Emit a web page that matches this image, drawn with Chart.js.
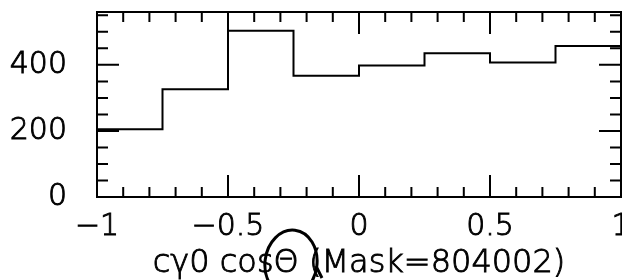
<!DOCTYPE html>
<html>
<head>
<meta charset="utf-8">
<script src="https://cdn.jsdelivr.net/npm/chart.js@4/dist/chart.umd.min.js"></script>
<style>
  html, body { margin: 0; padding: 0; background: #fff; overflow: hidden; }
  #wrap { width: 622px; height: 280px; position: relative; }
</style>
</head>
<body>
<div id="wrap"><canvas id="histo"></canvas></div>
<script>
// ===== DATA =====
const binEdges = [-1, -0.75, -0.5, -0.25, 0, 0.25, 0.5, 0.75];
const counts   = [205, 326, 503, 367, 398, 435, 407, 457];
const xMajor = [-1, -0.5, 0, 0.5, 1];
const xMinorStep = 0.1;
const yMajor = [0, 200, 400];
const yMinorStep = 50;
const xTitle = 'cγ0 cosΘ (Mask=804002)';

const FAMILY = '"DejaVu Sans", sans-serif';
const FONT = { family: FAMILY, size: 30, weight: 200 };
const TITLE_FONT = { family: FAMILY, size: 32, weight: 200, lineHeight: 1.2 };
const TEXT_STROKE = 0.9;
const TITLE_PAD_BOTTOM = -3;

// step points: last edge at x=1 repeats the last count
const points = binEdges.map((x, i) => ({ x: x, y: counts[i] }));
points.push({ x: 1, y: counts[counts.length - 1] });

// ===== FRAME + INWARD TICKS =====
const framePlugin = {
  id: 'frame',
  afterDraw(chart) {
    const { ctx, chartArea: a, scales } = chart;
    const xs = scales.x, ys = scales.y;
    ctx.save();
    ctx.strokeStyle = '#000';
    ctx.lineWidth = 2;
    ctx.strokeRect(a.left, a.top, a.right - a.left, a.bottom - a.top);

    ctx.beginPath();
    // x ticks, bottom and top
    for (let v = -1; v <= 1.0001; v += xMinorStep) {
      const r = Math.round(v * 10) / 10;
      const major = xMajor.some(m => Math.abs(m - r) < 1e-6);
      const len = major ? 22 : 10;
      const px = xs.getPixelForValue(r);
      ctx.moveTo(px, a.bottom); ctx.lineTo(px, a.bottom - len);
      ctx.moveTo(px, a.top); ctx.lineTo(px, a.top + len);
    }
    // y ticks, left and right
    for (let v = 0; v <= ys.max; v += yMinorStep) {
      const major = yMajor.includes(v);
      const len = major ? 22 : 11;
      const py = ys.getPixelForValue(v);
      ctx.moveTo(a.left, py); ctx.lineTo(a.left + len, py);
      ctx.moveTo(a.right, py); ctx.lineTo(a.right - len, py);
    }
    ctx.stroke();

    // thicken the axis title the same way the tick labels are
    const lh = TITLE_FONT.size * TITLE_FONT.lineHeight;
    ctx.font = `${TITLE_FONT.weight} ${TITLE_FONT.size}px ${FAMILY}`;
    ctx.textAlign = 'center';
    ctx.textBaseline = 'middle';
    ctx.lineWidth = TEXT_STROKE;
    ctx.strokeText(xTitle, (xs.left + xs.right) / 2, xs.bottom - lh / 2 - TITLE_PAD_BOTTOM);

    // pen mark on the scanned page
    ctx.lineWidth = 3;
    ctx.beginPath();
    ctx.ellipse(291, 263, 26, 33, 0.12, 0, Math.PI * 2);
    ctx.stroke();
    ctx.beginPath();
    ctx.moveTo(316, 266); ctx.lineTo(322, 278);
    ctx.stroke();
    ctx.restore();
  }
};

// ===== CHART =====
new Chart(document.getElementById('histo'), {
  type: 'line',
  data: {
    datasets: [{
      data: points,
      stepped: true,
      borderColor: '#000',
      borderWidth: 2,
      pointRadius: 0,
      fill: false
    }]
  },
  options: {
    responsive: true,
    maintainAspectRatio: false,
    animation: false,
    layout: { padding: { top: 12, right: 1, left: 0, bottom: 0 } },
    plugins: { legend: { display: false }, tooltip: { enabled: false } },
    scales: {
      x: {
        type: 'linear',
        min: -1, max: 1,
        border: { display: false },
        grid: { display: false, drawTicks: false },
        ticks: {
          stepSize: 0.5,
          autoSkip: false,
          maxRotation: 0,
          padding: 12,
          color: '#000',
          textStrokeColor: '#000',
          textStrokeWidth: TEXT_STROKE,
          font: FONT,
          callback: v => v < 0 ? '\u2212' + Math.abs(v) : String(v)
        },
        title: {
          display: true,
          text: xTitle,
          color: '#000',
          font: TITLE_FONT,
          padding: { top: 0, bottom: TITLE_PAD_BOTTOM }
        },
        afterFit(s) {
          s.height = 83;
          s.paddingLeft = 0;
          s.paddingRight = 0;
        }
      },
      y: {
        min: 0, max: 560,
        border: { display: false },
        grid: { display: false, drawTicks: false },
        afterBuildTicks(s) {
          s.ticks = yMajor.map(v => ({ value: v }));
        },
        ticks: {
          autoSkip: false,
          padding: 30,
          color: '#000',
          textStrokeColor: '#000',
          textStrokeWidth: TEXT_STROKE,
          font: FONT,
          callback: v => String(v)
        },
        afterFit(s) {
          s.width = 97;
          s.paddingTop = 0;
          s.paddingBottom = 0;
        }
      }
    }
  },
  plugins: [framePlugin]
});
</script>
</body>
</html>
